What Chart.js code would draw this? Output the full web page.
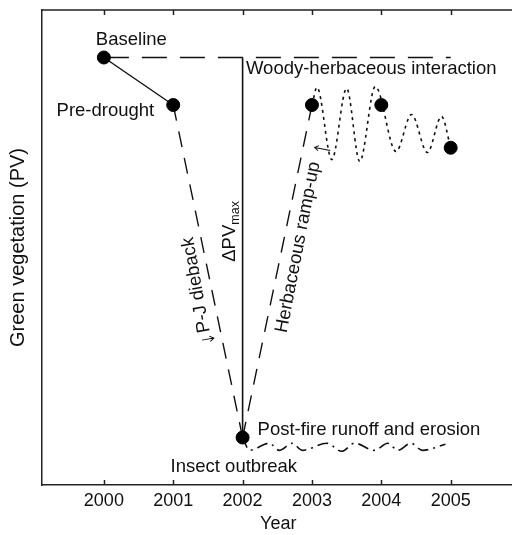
<!DOCTYPE html>
<html>
<head>
<meta charset="utf-8">
<script src="https://cdn.jsdelivr.net/npm/chart.js@4.4.1/dist/chart.umd.min.js"></script>
<style>
  html, body { margin: 0; padding: 0; background: #fff; overflow: hidden; }
  #wrap { width: 522px; height: 535px; }
</style>
</head>
<body>
<div id="wrap"><canvas id="grafico" width="522" height="535"></canvas></div>
<script>
// ---- data (y is relative green vegetation, 0-100) ----
const years = [2000, 2001, 2002, 2003, 2004, 2005];
const stateX = [2000, 2001, 2002, 2003, 2004, 2005];
const stateY = [90, 80, 10, 80, 80, 71];
const baselineX = [2000, 2005];
const baselineY = [90, 90];
const deltaX = [2002, 2002];
const deltaY = [90, 10];
const oscX = [2003.0, 2003.073, 2003.286, 2003.5, 2003.689, 2003.913, 2004.212, 2004.436, 2004.664, 2004.868, 2005.0];
const oscY = [80, 83.7, 68.5, 83.5, 68.1, 83.9, 70.2, 78.0, 70.0, 77.6, 71.0];
const runoffX = [2002.0, 2002.10, 2002.385, 2002.527, 2002.717, 2002.859, 2003.215, 2003.429, 2003.614, 2003.899, 2004.094, 2004.236, 2004.426, 2004.593, 2004.925];
const runoffY = [10, 7.3, 8.8, 7.3, 8.8, 7.3, 8.8, 7.1, 8.8, 7.3, 8.8, 7.3, 8.8, 7.3, 8.6];

const ink = '#111';
const fuente = '"Liberation Sans", Arial, sans-serif';

const pares = (xs, ys) => xs.map((x, i) => ({ x, y: ys[i] }));

const linea = (data, dash, extra = {}) => ({
    type: 'line',
    data,
    borderColor: ink,
    borderWidth: 1.4,
    borderDash: dash,
    pointRadius: 0,
    fill: false,
    ...extra
});

// annotation texts, placed relative to a state point (index into stateX/stateY), offsets in px
// arrow: [along, from, to] in the text's own frame
const etiquetas = [
    { text: 'Baseline', at: 0, dx: -8, dy: -13, align: 'left' },
    { text: 'Pre-drought', at: 1, dx: -19, dy: 11, align: 'right' },
    { text: 'Woody-herbaceous interaction', at: 3, dx: -66, dy: -31, align: 'left' },
    { text: 'Post-fire runoff and erosion', at: 2, dx: 15, dy: -3, align: 'left' },
    { text: 'Insect outbreak', at: 2, dx: -72, dy: 34, align: 'left' },
    { text: 'P-J dieback', at: 2, dx: -31, dy: -95, align: 'left', rot: -100, shift: 11, arrow: [4, -9, 3] },
    { text: 'Herbaceous ramp-up', at: 2, dx: 44, dy: -104, align: 'left', rot: -79, arrow: [188, 8, -8] }
];

const flecha = (ctx, [a, from, to]) => {
    const s = Math.sign(to - from);
    ctx.beginPath();
    ctx.moveTo(a, from);
    ctx.lineTo(a, to);
    ctx.moveTo(a - 2.6, to - s * 4);
    ctx.lineTo(a, to);
    ctx.lineTo(a + 2.6, to - s * 4);
    ctx.stroke();
};

const marco = {
    id: 'marco',
    afterDraw(chart) {
        const { ctx, chartArea: a, scales: { x, y } } = chart;
        ctx.save();
        ctx.strokeStyle = '#222';
        ctx.lineWidth = 1.5;
        ctx.beginPath();
        ctx.moveTo(a.left, a.top);
        ctx.lineTo(a.right, a.top);
        years.forEach(v => {
            const px = Math.round(x.getPixelForValue(v)) + 0.5;
            ctx.moveTo(px, a.top);
            ctx.lineTo(px, a.top + 5);
            ctx.moveTo(px, a.bottom);
            ctx.lineTo(px, a.bottom - 5);
        });
        ctx.stroke();

        ctx.fillStyle = ink;
        ctx.strokeStyle = ink;
        ctx.lineWidth = 1;
        ctx.font = `18.5px ${fuente}`;
        ctx.textBaseline = 'alphabetic';
        etiquetas.forEach(e => {
            const px = x.getPixelForValue(stateX[e.at]) + e.dx;
            const py = y.getPixelForValue(stateY[e.at]) + e.dy;
            ctx.save();
            ctx.translate(px, py);
            if (e.rot) ctx.rotate(e.rot * Math.PI / 180);
            ctx.textAlign = e.align;
            ctx.fillText(e.text, e.shift || 0, 0);
            if (e.arrow) flecha(ctx, e.arrow);
            ctx.restore();
        });

        // delta PV max, next to the vertical line
        const bx = x.getPixelForValue(2002) - 8;
        const by = y.getPixelForValue(47);
        ctx.save();
        ctx.translate(bx, by);
        ctx.rotate(-Math.PI / 2);
        ctx.textAlign = 'left';
        ctx.font = `18.5px ${fuente}`;
        ctx.fillText('\u0394PV', 0, 0);
        const w = ctx.measureText('\u0394PV').width;
        ctx.font = `12.5px ${fuente}`;
        ctx.fillText('max', w, 4);
        ctx.restore();
        ctx.restore();
    }
};

const ctx = document.getElementById('grafico').getContext('2d');
new Chart(ctx, {
    data: {
        datasets: [
            {
                type: 'scatter',
                data: pares(stateX, stateY),
                pointRadius: 6.5,
                pointBackgroundColor: '#000',
                pointBorderColor: '#000',
                showLine: false
            },
            linea(pares(stateX.slice(0, 2), stateY.slice(0, 2)), []),
            linea(pares(stateX.slice(1, 3), stateY.slice(1, 3)), [16, 11]),
            linea(pares(stateX.slice(2, 4), stateY.slice(2, 4)), [16, 11]),
            linea(pares(baselineX, baselineY), [25, 13]),
            linea(pares(deltaX, deltaY), [], { borderWidth: 1.6 }),
            linea(pares(oscX, oscY), [3, 4], { cubicInterpolationMode: 'monotone', borderWidth: 1.6 }),
            linea(pares(runoffX, runoffY), [11, 5, 2, 5], { cubicInterpolationMode: 'monotone', borderWidth: 1.6 })
        ]
    },
    options: {
        responsive: false,
        animation: false,
        layout: { padding: { top: 10, right: 2, left: 0, bottom: 0 } },
        plugins: { legend: { display: false }, tooltip: { enabled: false } },
        scales: {
            x: {
                type: 'linear',
                min: 1999.108,
                max: 2005.92,
                afterBuildTicks: s => { s.ticks = years.map(v => ({ value: v })); },
                grid: { display: false, drawTicks: false },
                border: { display: true, color: '#222', width: 1.5 },
                ticks: { color: ink, padding: 7, font: { family: fuente, size: 18, lineHeight: 1 }, callback: v => String(v) },
                title: { display: true, text: 'Year', color: ink, font: { family: fuente, size: 18, lineHeight: 1 }, padding: { top: -2, bottom: 2 } }
            },
            y: {
                min: 0,
                max: 100,
                grid: { display: false, drawTicks: false },
                border: { display: true, color: '#222', width: 1.5 },
                ticks: { display: false },
                title: { display: true, text: 'Green vegetation (PV)', color: ink, font: { family: fuente, size: 20, lineHeight: 1.2 }, padding: { top: 6, bottom: 12 } }
            }
        }
    },
    plugins: [marco]
});
</script>
</body>
</html>
